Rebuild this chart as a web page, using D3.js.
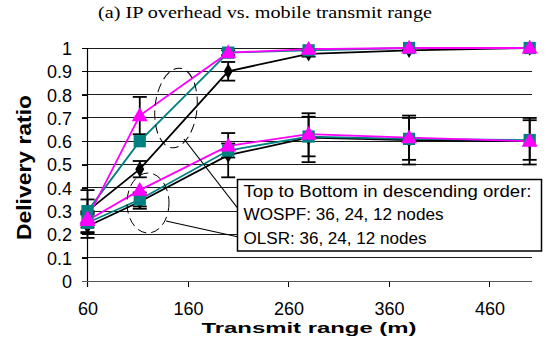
<!DOCTYPE html>
<html>
<head>
<meta charset="utf-8">
<script src="https://cdn.jsdelivr.net/npm/d3@7"></script>
<style>
  html, body { margin: 0; padding: 0; background: #fff; }
  svg { display: block; }
  text { font-family: "Liberation Sans", Arial, sans-serif; fill: #000; }
</style>
</head>
<body>
<svg id="chart" width="546" height="341"></svg>
<script>
// Transmit range (m) at which delivery ratio was measured
const ranges = [60, 112, 200, 280, 380, 500];

// Delivery ratio per protocol / node count
const wospf36 = [0.27, 0.71, 0.98, 0.995, 1.0, 1.0];
const wospf24 = [0.30, 0.60, 0.98, 0.99, 1.0, 1.0];
const wospf12 = [0.30, 0.48, 0.90, 0.975, 0.99, 1.0];
const olsr36  = [0.26, 0.39, 0.58, 0.63, 0.615, 0.60];
const olsr24  = [0.25, 0.35, 0.56, 0.62, 0.61, 0.605];
const olsr12  = [0.235, 0.34, 0.54, 0.615, 0.605, 0.60];

// Error-bar half widths (symmetric)
const wospf36Err = [0.03, 0.08, 0.01, 0.0, 0.0, 0.0];
const wospf24Err = [0.05, 0.0, 0.0, 0.0, 0.0, 0.0];
const wospf12Err = [0.09, 0.035, 0.04, 0.012, 0.006, 0.0];
const olsr36Err  = [0.03, 0.0, 0.0, 0.0, 0.0, 0.0];
const olsr24Err  = [0.045, 0.03, 0.03, 0.085, 0.09, 0.085];
const olsr12Err  = [0.05, 0.03, 0.095, 0.105, 0.105, 0.10];

const yTicks = [0, 0.1, 0.2, 0.3, 0.4, 0.5, 0.6, 0.7, 0.8, 0.9, 1];
const xTicks = [60, 160, 260, 360, 460];

const svg = d3.select("#chart");

const x = d3.scaleLinear().domain([60, 502]).range([87.5, 531.7]);
const y = d3.scaleLinear().domain([0, 1]).range([281, 48]);

// Title
svg.append("text")
  .attr("x", 265).attr("y", 18)
  .attr("text-anchor", "middle")
  .style("font-family", "'Liberation Serif', 'Times New Roman', serif")
  .style("font-size", "17px")
  .attr("textLength", 334).attr("lengthAdjust", "spacingAndGlyphs")
  .text("(a) IP overhead vs. mobile transmit range");

// Horizontal gridlines
svg.append("g").selectAll("line")
  .data(yTicks.filter(d => d > 0))
  .join("line")
  .attr("x1", 82).attr("x2", 531.7)
  .attr("y1", d => y(d)).attr("y2", d => y(d))
  .attr("stroke", "#1a1a1a").attr("stroke-width", 1)
  .attr("shape-rendering", "crispEdges");

// Y axis
const yAxis = d3.axisLeft(y)
  .tickValues(yTicks)
  .tickSize(5.5)
  .tickPadding(10)
  .tickFormat(d => d === 0 ? "0" : d === 1 ? "1" : d.toFixed(1));
const gy = svg.append("g").attr("transform", "translate(87.5,0)").call(yAxis);
gy.select(".domain").remove();
gy.selectAll(".tick line").attr("stroke", "#000").attr("shape-rendering", "crispEdges");
gy.selectAll(".tick text")
  .style("font-family", "'Liberation Sans', Arial, sans-serif")
  .style("font-size", "18px")
  .attr("dy", "0.36em");
svg.append("line")
  .attr("x1", 87.5).attr("x2", 87.5).attr("y1", y(1)).attr("y2", 287)
  .attr("stroke", "#000").attr("stroke-width", 1.2);

// X axis
const xAxis = d3.axisBottom(x)
  .tickValues(xTicks)
  .tickSize(6)
  .tickPadding(15)
  .tickFormat(d3.format("d"));
const gx = svg.append("g").attr("transform", `translate(0,${y(0)})`).call(xAxis);
gx.select(".domain").remove();
gx.selectAll(".tick line").attr("stroke", "#000").attr("shape-rendering", "crispEdges")
  .filter(d => d === 60).remove();
gx.selectAll(".tick text")
  .style("font-family", "'Liberation Sans', Arial, sans-serif")
  .style("font-size", "18px");
svg.append("line")
  .attr("x1", 82).attr("x2", 531.7).attr("y1", y(0)).attr("y2", y(0))
  .attr("stroke", "#555").attr("stroke-width", 1)
  .attr("shape-rendering", "crispEdges");

// Axis titles
svg.append("text")
  .attr("x", 309).attr("y", 333)
  .attr("text-anchor", "middle")
  .style("font-weight", "bold").style("font-size", "14px")
  .attr("textLength", 215).attr("lengthAdjust", "spacingAndGlyphs")
  .text("Transmit range (m)");
svg.append("text")
  .attr("transform", "translate(30.5,167.5) rotate(-90)")
  .attr("text-anchor", "middle")
  .style("font-weight", "bold").style("font-size", "20px")
  .attr("textLength", 145).attr("lengthAdjust", "spacingAndGlyphs")
  .text("Delivery ratio");

// Series definitions (drawn bottom to top)
const series = [
  { name: "WOSPF 12", values: wospf12, err: wospf12Err, color: "#000000", shape: "diamond" },
  { name: "OLSR 12",  values: olsr12,  err: olsr12Err,  color: "#000000", shape: "diamond" },
  { name: "WOSPF 24", values: wospf24, err: wospf24Err, color: "#008080", shape: "square" },
  { name: "OLSR 24",  values: olsr24,  err: olsr24Err,  color: "#008080", shape: "square" },
  { name: "WOSPF 36", values: wospf36, err: wospf36Err, color: "#FF00FF", shape: "triangle" },
  { name: "OLSR 36",  values: olsr36,  err: olsr36Err,  color: "#FF00FF", shape: "triangle" }
];

const line = d3.line().x(d => x(d.r)).y(d => y(d.v));

// Error bars
const gErr = svg.append("g");
series.forEach(s => {
  const pts = ranges.map((r, i) => ({ r, v: s.values[i], e: s.err[i] })).filter(p => p.e > 0);
  const g = gErr.append("g");
  g.selectAll("line.v").data(pts).join("line")
    .attr("x1", p => x(p.r)).attr("x2", p => x(p.r))
    .attr("y1", p => y(p.v + p.e)).attr("y2", p => y(p.v - p.e))
    .attr("stroke", "#000").attr("stroke-width", 1.8);
  [1, -1].forEach(sign => {
    g.selectAll(null).data(pts).join("line")
      .attr("x1", p => x(p.r) - 7).attr("x2", p => x(p.r) + 7)
      .attr("y1", p => y(p.v + sign * p.e)).attr("y2", p => y(p.v + sign * p.e))
      .attr("stroke", "#000").attr("stroke-width", 1.8);
  });
});

// Lines
const gLines = svg.append("g");
series.forEach(s => {
  const pts = ranges.map((r, i) => ({ r, v: s.values[i] }));
  gLines.append("path")
    .datum(pts)
    .attr("d", line)
    .attr("fill", "none")
    .attr("stroke", s.color)
    .attr("stroke-width", 1.8);
});

// Markers
const symbolType = { diamond: d3.symbolDiamond, square: d3.symbolSquare, triangle: d3.symbolTriangle };
const symbolSize = { diamond: 70, square: 150, triangle: 110 };
const gMarks = svg.append("g");
series.forEach(s => {
  const pts = ranges.map((r, i) => ({ r, v: s.values[i] }));
  gMarks.append("g").selectAll("path").data(pts).join("path")
    .attr("transform", p => `translate(${x(p.r)},${y(p.v) + (s.shape === "triangle" ? 1 : 0)})`)
    .attr("d", d3.symbol().type(symbolType[s.shape]).size(symbolSize[s.shape]))
    .attr("fill", s.color);
});

// Dashed callout ellipses and their leader lines
const gNote = svg.append("g");
gNote.append("ellipse")
  .attr("transform", "translate(176,108) rotate(6)")
  .attr("rx", 21).attr("ry", 40)
  .attr("fill", "none").attr("stroke", "#000").attr("stroke-width", 1)
  .attr("stroke-dasharray", "9,5");
gNote.append("ellipse")
  .attr("transform", "translate(148,203)")
  .attr("rx", 21).attr("ry", 30)
  .attr("fill", "none").attr("stroke", "#000").attr("stroke-width", 1)
  .attr("stroke-dasharray", "9,5");
gNote.append("line")
  .attr("x1", 184).attr("y1", 139).attr("x2", 243).attr("y2", 215)
  .attr("stroke", "#000").attr("stroke-width", 1.2);
gNote.append("line")
  .attr("x1", 166).attr("y1", 221).attr("x2", 243).attr("y2", 238)
  .attr("stroke", "#000").attr("stroke-width", 1.2);

// Annotation box
gNote.append("rect")
  .attr("x", 237.5).attr("y", 179.5).attr("width", 304).attr("height", 71.5)
  .attr("fill", "#fff").attr("stroke", "#000").attr("stroke-width", 1.5);
const noteLines = [
  { t: "Top to Bottom in descending order:", w: 288, yb: 197 },
  { t: "WOSPF: 36, 24, 12 nodes", w: 200, yb: 220 },
  { t: "OLSR: 36, 24, 12 nodes", w: 183, yb: 243.5 }
];
gNote.selectAll("text").data(noteLines).join("text")
  .attr("x", 243.5).attr("y", d => d.yb)
  .style("font-size", "16px")
  .attr("textLength", d => d.w).attr("lengthAdjust", "spacingAndGlyphs")
  .text(d => d.t);
</script>
</body>
</html>
